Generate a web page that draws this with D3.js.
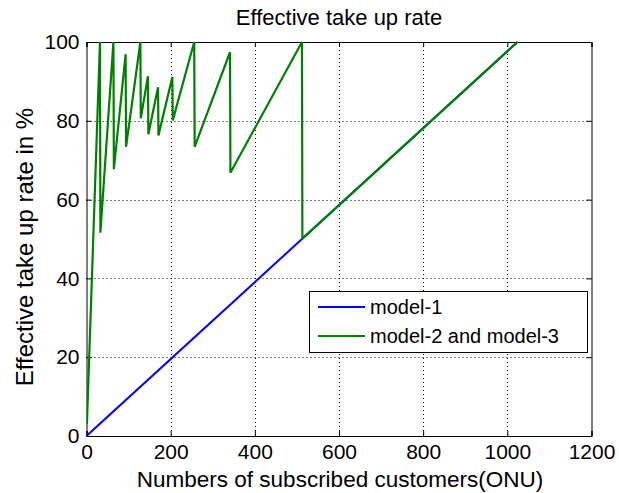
<!DOCTYPE html>
<html>
<head>
<meta charset="utf-8">
<script src="https://cdn.jsdelivr.net/npm/d3@7"></script>
<style>
  html, body { margin: 0; padding: 0; background: #ffffff; }
  svg { display: block; }
  text { font-family: "Liberation Sans", Arial, Helvetica, sans-serif; fill: #000; }
</style>
</head>
<body>
<svg id="chart" width="619" height="493"></svg>
<script>
// ---- data ----
const title = "Effective take up rate";
const xLabel = "Numbers of subscribed customers(ONU)";
const yLabel = "Effective take up rate in %";
const xTicks = [0, 200, 400, 600, 800, 1000, 1200];
const yTicks = [0, 20, 40, 60, 80, 100];
const seriesNames = ["model-1", "model-2 and model-3"];

// model-1 vertices
const model1N    = [0, 1024];
const model1Rate = [0, 100];

// model-2 and model-3 vertices (sawtooth)
const model23N    = [1, 32, 33, 64, 65, 93, 94, 128, 129, 146, 147, 170, 171, 204, 205, 256, 257, 341, 342, 512, 513, 1024];
const model23Rate = [3.1, 100, 51.6, 100, 67.7, 96.9, 73.4, 100, 80.6, 91.3, 76.6, 88.5, 76.3, 91.1, 80.1, 100, 73.4, 97.4, 66.8, 100, 50.1, 100];

// ---- layout ----
const svg = d3.select("#chart");
const L = 86.5, R = 591.5, T = 42, B = 436;

const x = d3.scaleLinear().domain([0, 1200]).range([L, R]);
const y = d3.scaleLinear().domain([0, 100]).range([B, T]);

// grid (dotted)
const grid = svg.append("g");
grid.selectAll("line.vx").data(xTicks.filter(d => d > 0 && d < 1200)).enter()
  .append("line")
  .attr("x1", d => Math.round(x(d)) + 0.5).attr("x2", d => Math.round(x(d)) + 0.5)
  .attr("y1", T).attr("y2", B)
  .attr("stroke", "#000").attr("stroke-width", 1).attr("stroke-dasharray", "1,3");
grid.selectAll("line.hy").data(yTicks.filter(d => d > 0 && d < 100)).enter()
  .append("line")
  .attr("y1", d => Math.round(y(d)) + 0.5).attr("y2", d => Math.round(y(d)) + 0.5)
  .attr("x1", L).attr("x2", R)
  .attr("stroke", "#000").attr("stroke-width", 1).attr("stroke-dasharray", "1,3");

// axes (ticks inward, box)
const tickLen = 5;
const xAxisB = d3.axisBottom(x).tickValues(xTicks).tickSize(-tickLen).tickPadding(tickLen + 3).tickFormat(d3.format("d"));
const xAxisT = d3.axisTop(x).tickValues(xTicks).tickSize(-tickLen).tickFormat("");
const yAxisL = d3.axisLeft(y).tickValues(yTicks).tickSize(-tickLen).tickPadding(tickLen + 2).tickFormat(d3.format("d"));
const yAxisR = d3.axisRight(y).tickValues(yTicks).tickSize(-tickLen).tickFormat("");

function styleAxis(g) {
  g.select(".domain").attr("stroke", "#000").attr("stroke-width", 1);
  g.selectAll(".tick line").attr("stroke", "#000");
  g.selectAll(".tick text").style("font-family", "'Liberation Sans', Arial, sans-serif")
    .style("font-size", "21px").attr("fill", "#000");
}
svg.append("g").attr("transform", `translate(0,${B})`).call(xAxisB).call(styleAxis);
svg.append("g").attr("transform", `translate(0,${T})`).call(xAxisT).call(styleAxis);
svg.append("g").attr("transform", `translate(${L},0)`).call(yAxisL).call(styleAxis);
svg.append("g").attr("transform", `translate(${R},0)`).call(yAxisR).call(styleAxis);

// lines
const line = d3.line().x(d => x(d[0])).y(d => y(d[1]));
svg.append("clipPath").attr("id", "plotclip")
  .append("rect").attr("x", L).attr("y", T - 2).attr("width", R - L).attr("height", B - T + 4);

const m1 = model1N.map((n, i) => [n, model1Rate[i]]);
const m23 = model23N.map((n, i) => [n, model23Rate[i]]);

svg.append("path").datum(m1).attr("d", line)
  .attr("fill", "none").attr("stroke", "#0000ff").attr("stroke-width", 2)
  .attr("clip-path", "url(#plotclip)");
svg.append("path").datum(m23).attr("d", line)
  .attr("fill", "none").attr("stroke", "#008000").attr("stroke-width", 2.2)
  .attr("stroke-linejoin", "miter").attr("stroke-miterlimit", 2)
  .attr("clip-path", "url(#plotclip)");

// titles
svg.append("text").attr("x", (L + R) / 2).attr("y", 25)
  .attr("text-anchor", "middle").style("font-size", "22px").text(title);
svg.append("text").attr("x", (L + R) / 2 + 1).attr("y", 487)
  .attr("text-anchor", "middle").style("font-size", "22.5px").text(xLabel);
svg.append("text").attr("transform", `translate(33,${(T + B) / 2 + 8}) rotate(-90)`)
  .attr("text-anchor", "middle").style("font-size", "24px").text(yLabel);

// legend
const lg = svg.append("g");
lg.append("rect").attr("x", 309.5).attr("y", 291.5).attr("width", 278).attr("height", 61)
  .attr("fill", "#fff").attr("stroke", "#000").attr("stroke-width", 1);
const colors = ["#0000ff", "#008000"];
seriesNames.forEach((name, i) => {
  const yy = 307 + i * 29;
  lg.append("line").attr("x1", 318).attr("x2", 365).attr("y1", yy).attr("y2", yy)
    .attr("stroke", colors[i]).attr("stroke-width", 2);
  lg.append("text").attr("x", 370).attr("y", yy + 7).style("font-size", "20px").text(name);
});
</script>
</body>
</html>
